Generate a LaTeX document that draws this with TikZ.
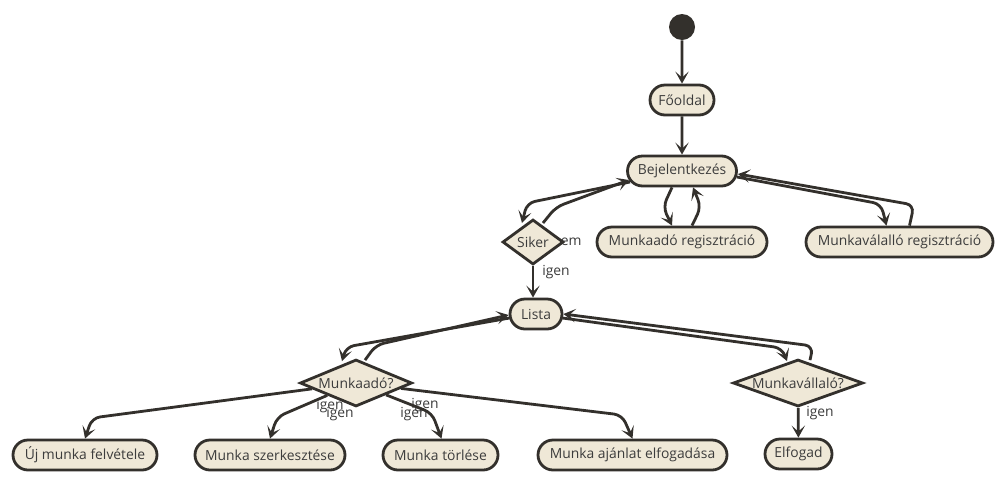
\documentclass[tikz,border=0pt]{standalone}
\usepackage{fontspec}
\setmainfont{Open Sans}
\usetikzlibrary{shapes.geometric,shapes.misc,arrows.meta,calc}
\pgfdeclarelayer{bg}
\pgfsetlayers{bg,main}
\definecolor{fillc}{HTML}{EFE8D7}
\definecolor{linec}{HTML}{33302C}
\definecolor{textc}{HTML}{3C3C3C}
\tikzset{
  act/.style={rounded rectangle, draw=linec, fill=fillc, line width=2.1pt, text=textc,
    font=\fontsize{10.4}{12}\selectfont, minimum height=22.5pt, inner sep=0pt},
  dec/.style={diamond, draw=linec, fill=fillc, line width=2.1pt, text=textc,
    font=\fontsize{10.4}{12}\selectfont, inner sep=0pt, minimum height=35.25pt},
  conn/.style={draw=linec, line width=2.1pt, rounded corners=6pt,
    -{Stealth[length=9pt,width=10pt,inset=4.5pt]}},
  lbl/.style={text=textc, font=\fontsize{10.4}{12}\selectfont, inner sep=0pt},
}
\begin{document}
\begin{tikzpicture}[x=0.75pt,y=-0.75pt]
\useasboundingbox (0,0) rectangle (1005,483);
% nodes
\node[circle, fill=linec, minimum size=19.5pt, inner sep=0pt] (start) at (682,27) {};
\node[act, minimum width=48pt] (foo) at (682,100) {Főoldal};
\node[act, minimum width=81.75pt] (bej) at (682,171) {Bejelentkezés};
\node[dec, minimum width=45.75pt, minimum height=33.75pt, shape aspect=1.35] (sik) at (533,242) {Siker};
\node[act, minimum width=127.5pt] (mreg1) at (682,242) {Munkaadó regisztráció};
\node[act, minimum width=140.25pt] (mreg2) at (899.5,242) {Munkaválalló regisztráció};
\node[act, minimum width=39pt] (lista) at (536,314) {Lista};
\node[dec, minimum width=84pt, shape aspect=2.4] (madd) at (356,383) {Munkaadó?};
\node[dec, minimum width=97.5pt, shape aspect=2.77] (mvall) at (798,383) {Munkavállaló?};
\node[act, minimum width=108pt] (uj) at (85,455) {Új munka felvétele};
\node[act, minimum width=112.5pt] (szerk) at (270,455) {Munka szerkesztése};
\node[act, minimum width=86.25pt] (torl) at (440.5,455) {Munka törlése};
\node[act, minimum width=141.75pt] (ajanl) at (632.5,455) {Munka ajánlat elfogadása};
\node[act, minimum width=50.25pt] (elf) at (798.5,454) {Elfogad};
% connectors
\begin{pgfonlayer}{bg}
\fill[white] (0,0) rectangle (1005,483);
\node[lbl] (lnem) at (567,242) {nem};
\node[lbl] (lig1) at (556,272) {igen};
\node[lbl] (lig2) at (330,406) {igen};
\node[lbl] (lig3) at (340,414) {igen};
\node[lbl] (lig4) at (425,405) {igen};
\node[lbl] (lig5) at (414,414) {igen};
\node[lbl] (lig6) at (820,413) {igen};
\draw[conn] (start) -- (foo);
\draw[conn] (foo) -- (bej);
\draw[conn] ($(bej)+(-52,11)$) -- (527,203) -- ($(sik)+(-11,-19)$);
\draw[conn] ($(sik)+(10,-19)$) -- (556,207) -- ($(bej)+(-53,9)$);
\draw[conn] (sik.south) -- (sik.south |- lista.north);
\draw[conn] ($(bej.south)+(-10,0)$) -- (663,207) -- ($(mreg1.north)+(-10,0)$);
\draw[conn] ($(mreg1.north)+(10,0)$) -- (701,207) -- ($(bej.south)+(11,0)$);
\draw[conn] ($(bej.east)+(-1,6)$) -- (881,204) -- ($(mreg2.north)+(-13,0)$);
\draw[conn] ($(mreg2.north)+(10,0)$) -- (914,205) -- ($(bej.east)+(0,3)$);
\draw[conn] ($(lista.west)+(1,4)$) -- (346,347) -- ($(madd.north)+(-14,3)$);
\draw[conn] ($(madd.north)+(9,2)$) -- (376,345) -- ($(lista.west)+(0,1)$);
\draw[conn] ($(lista.east)+(-1,4)$) -- (782,348) -- ($(mvall.north)+(-11,3)$);
\draw[conn] ($(mvall.north)+(12,2)$) -- (813,346) -- ($(lista.east)+(0,0)$);
\draw[conn] (madd) -- (92,418) -- (uj.north);
\draw[conn] (madd) -- (277,417) -- (szerk.north);
\draw[conn] (madd) -- (432,413) -- ($(torl.north)+(1,0)$);
\draw[conn] (madd) -- (622,415) -- (ajanl.north);
\draw[conn] (mvall) -- (elf);
\end{pgfonlayer}
\end{tikzpicture}
\end{document}
